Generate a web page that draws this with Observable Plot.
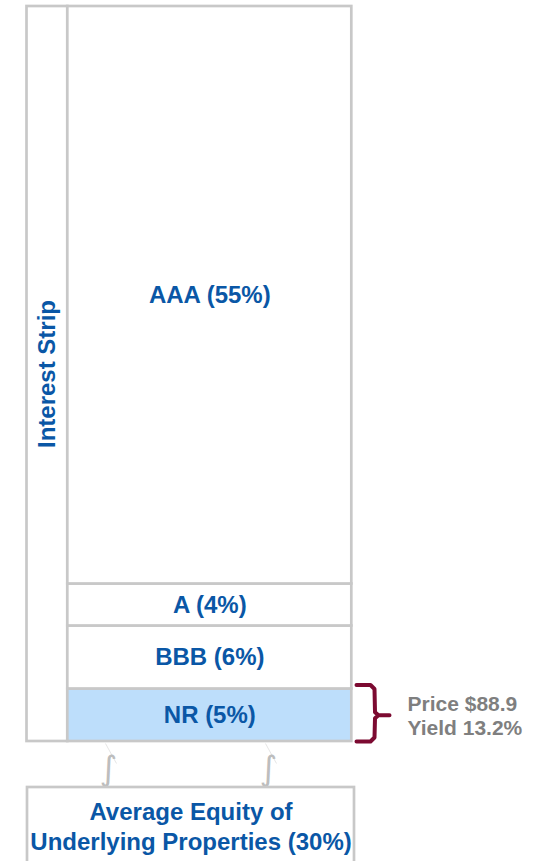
<!DOCTYPE html>
<html>
<head>
<meta charset="utf-8">
<script src="https://cdn.jsdelivr.net/npm/d3@7"></script>
<script src="https://cdn.jsdelivr.net/npm/@observablehq/plot@0.6"></script>
<style>
  html, body { margin: 0; padding: 0; background: #ffffff; }
  #chart svg { display: block; }
</style>
</head>
<body>
<div id="chart"></div>
<script>
// ---- data ----
const tranches = ["AAA", "A", "BBB", "NR"];
const shares = [55, 4, 6, 5];           // % of capital structure
const stripLabel = "Interest Strip";
const equityLabel = "Average Equity of\nUnderlying Properties";
const equityShare = 30;
const highlighted = "NR";
const priceText = "Price $88.9";
const yieldText = "Yield 13.2%";

// ---- build stacked table (bottom NR -> top AAA) ----
const rows = [];
let acc = 0;
for (let i = tranches.length - 1; i >= 0; i--) {
  rows.push({name: tranches[i], share: shares[i], lo: acc, hi: acc + shares[i]});
  acc += shares[i];
}
const total = acc;

// ---- layout ----
const W = 540, H = 861;
const yTop = 6, yBot = 741;
const pxPerPct = (yBot - yTop) / total;
const px = (p) => p / pxPerPct;        // pixel distance -> % units
const stripX1 = 26.5, boxX1 = 67.3, boxX2 = 351.3;
const boxCx = (boxX1 + boxX2) / 2;
const grey = "#c8c8c8", blue = "#0a57a6", wine = "#7c0a31";
const font = "Liberation Sans, Arial, Helvetica, sans-serif";

const nr = rows.find(d => d.name === highlighted);
const bTop = nr.hi + px(4), bBot = nr.lo, bMid = (nr.lo + nr.hi) / 2;
const brace = [
  {x: 356, y: bTop}, {x: 370, y: bTop}, {x: 374, y: bTop - px(4)},
  {x: 374.5, y: bMid + px(3)}, {x: 378, y: bMid}, {x: 389, y: bMid},
  {x: 378, y: bMid}, {x: 374.5, y: bMid - px(3)},
  {x: 374, y: bBot + px(4)}, {x: 370, y: bBot}, {x: 356, y: bBot}
];

const eqTop = -px(46), eqBot = -px(140);
const squiggles = [108, 268];

const chart = Plot.plot({
  width: W, height: H,
  marginTop: 0, marginRight: 0, marginBottom: 0, marginLeft: 0,
  x: {domain: [0, W], range: [0, W], axis: null},
  y: {domain: [0, total], range: [yBot, yTop], axis: null},
  style: {background: "#ffffff", overflow: "visible"},
  marks: [
    // interest strip column
    Plot.rect([{}], {x1: stripX1, x2: boxX1, y1: 0, y2: total, fill: "#ffffff", stroke: grey, strokeWidth: 2.7}),
    // tranches
    Plot.rect(rows, {x1: boxX1, x2: boxX2, y1: "lo", y2: "hi",
      fill: d => d.name === highlighted ? "#bddefb" : "#ffffff", stroke: grey, strokeWidth: 2.7}),
    Plot.text(rows, {x: boxCx, y: d => (d.lo + d.hi) / 2, text: d => `${d.name} (${d.share}%)`,
      fill: blue, fontSize: 24, fontWeight: "bold", fontFamily: font}),
    Plot.text([stripLabel], {x: (stripX1 + boxX1) / 2, y: total / 2, text: d => d, rotate: -90,
      fill: blue, fontSize: 24, fontWeight: "bold", fontFamily: font}),
    // brace + price/yield
    Plot.line(brace, {x: "x", y: "y", stroke: wine, strokeWidth: 4, strokeLinejoin: "round", strokeLinecap: "round", curve: "linear"}),
    Plot.text([`${priceText}\n${yieldText}`], {x: 407, y: bMid, text: d => d, textAnchor: "start",
      lineHeight: 1.15, fill: "#7f7f7f", fontSize: 21, fontWeight: "bold", fontFamily: font}),
    // break marks
    Plot.link(squiggles, {x1: d => d - 3, y1: -px(2), x2: d => d + 8, y2: -px(22), stroke: "#e6e6e6", strokeWidth: 1}),
    Plot.text(squiggles, {x: d => d, y: -px(28), text: () => "\u222B", fill: "#bdbdbd",
      fontSize: 34, fontFamily: "DejaVu Sans, sans-serif"}),
    // equity box
    Plot.rect([{}], {x1: 27, x2: 354, y1: eqBot, y2: eqTop, fill: "#ffffff", stroke: grey, strokeWidth: 2.7}),
    Plot.text([`${equityLabel} (${equityShare}%)`], {x: (27 + 354) / 2, y: -px(84), text: d => d,
      lineHeight: 1.25, fill: blue, fontSize: 24, fontWeight: "bold", fontFamily: font})
  ]
});
document.getElementById("chart").appendChild(chart);
</script>
</body>
</html>
